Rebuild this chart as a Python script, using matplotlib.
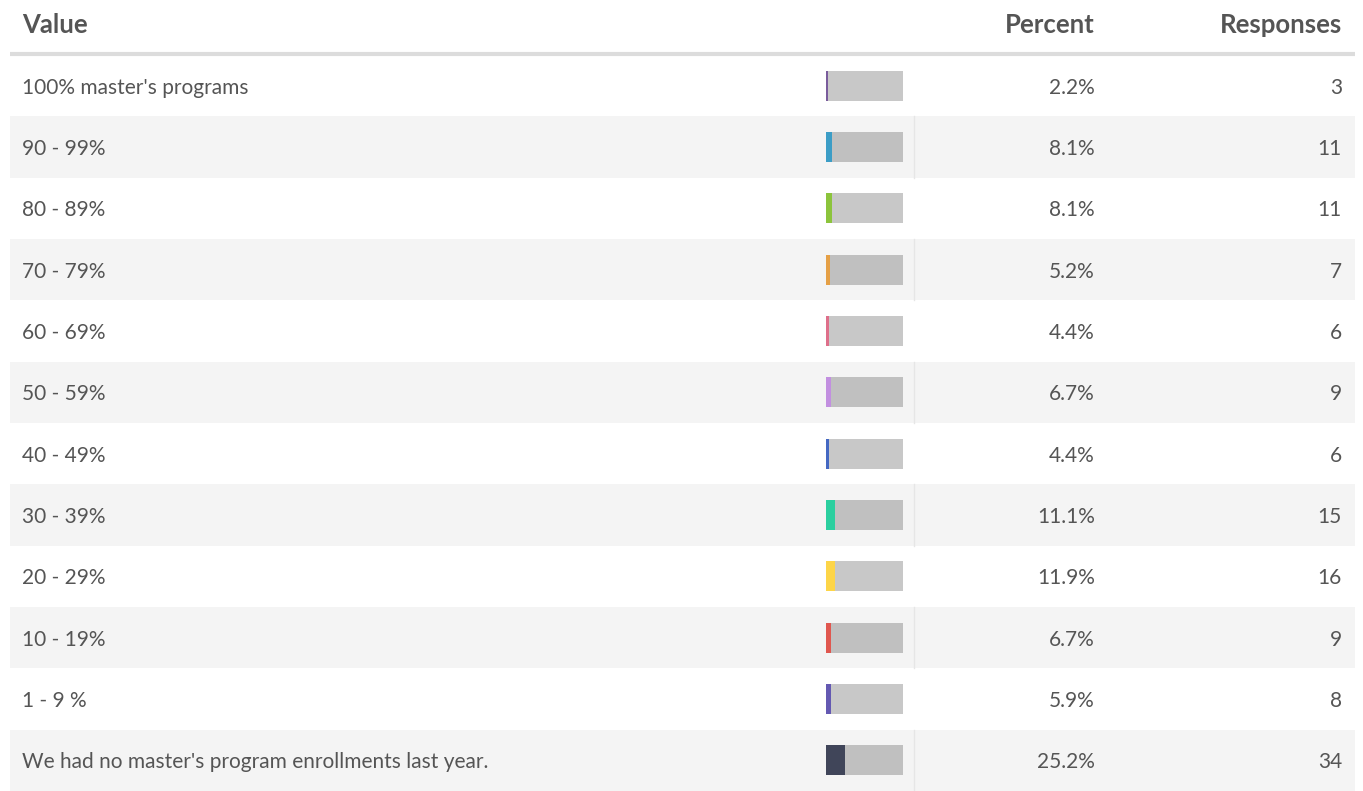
import matplotlib.pyplot as plt
from matplotlib.patches import Rectangle

plt.rcParams['font.family'] = ['Lato', 'DejaVu Sans']

# data
labels = [
    "100% master's programs", "90 - 99%", "80 - 89%", "70 - 79%", "60 - 69%",
    "50 - 59%", "40 - 49%", "30 - 39%", "20 - 29%", "10 - 19%", "1 - 9 %",
    "We had no master's program enrollments last year.",
]
percents = [2.2, 8.1, 8.1, 5.2, 4.4, 6.7, 4.4, 11.1, 11.9, 6.7, 5.9, 25.2]
responses = [3, 11, 11, 7, 6, 9, 6, 15, 16, 9, 8, 34]
colors = [
    "#7a5c9c", "#3c9dc6", "#8cc43c", "#e5a046", "#de6f8a", "#c28fe0",
    "#4468c2", "#2bcf9f", "#fdd548", "#e0574f", "#6459b2", "#404559",
]

W, H = 1363, 791
fig = plt.figure(figsize=(W / 100, H / 100), dpi=100)
ax = fig.add_axes([0, 0, 1, 1])
ax.set_xlim(0, W)
ax.set_ylim(H, 0)
ax.axis("off")

txt = "#555555"
top = 55
row_h = (H - top) / len(labels)
left, right = 10, 1355
bar_x, bar_w, bar_h = 826, 77, 30

# header
hdr = dict(fontsize=18.5, fontweight="bold", color=txt, va="center")
ax.text(22, 25, "Value", **hdr)
ax.text(1095, 25, "Percent", ha="right", **hdr)
ax.text(1342, 25, "Responses", ha="right", **hdr)
ax.plot([left, right], [top - 1.5, top - 1.5], color="#dcdcdc", lw=3,
        solid_capstyle="butt")

for i, (lab, pct, resp, col) in enumerate(zip(labels, percents, responses, colors)):
    y0 = top + i * row_h
    yc = y0 + row_h / 2
    ty = yc + 2
    shaded = i % 2 == 1
    if shaded:
        ax.add_patch(Rectangle((left, y0), right - left, row_h,
                               facecolor="#f4f4f4", edgecolor="none", zorder=0))
        ax.plot([914, 914], [y0, y0 + row_h], color="#e6e6e6", lw=1, zorder=1)
    ax.barh(yc, bar_w, left=bar_x, height=bar_h,
            color="#c0c0c0" if shaded else "#c8c8c8", zorder=2)
    ax.barh(yc, bar_w * pct / 100, left=bar_x, height=bar_h, color=col, zorder=3)
    ax.text(22, ty, lab, fontsize=15, color=txt, va="center")
    ax.text(1095, ty, f"{pct:.1f}%", fontsize=15, color=txt, va="center", ha="right")
    ax.text(1342, ty, str(resp), fontsize=15, color=txt, va="center", ha="right")

fig.savefig("out.png", dpi=100, facecolor="white")
